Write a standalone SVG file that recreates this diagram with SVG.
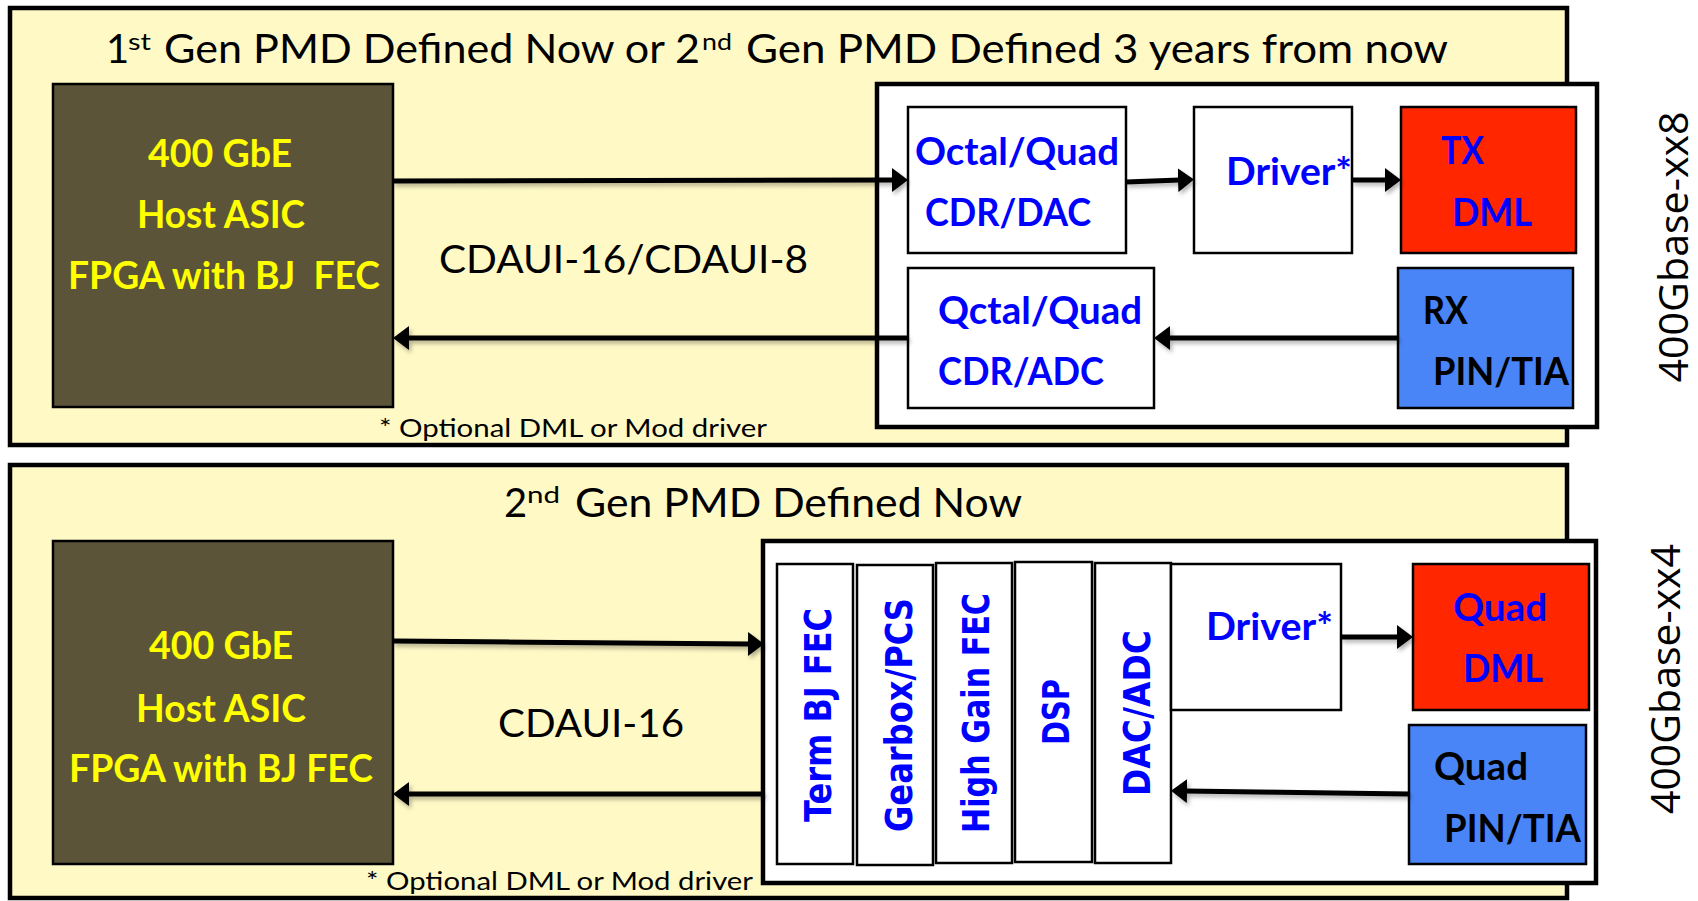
<svg xmlns="http://www.w3.org/2000/svg" width="1698" height="901" viewBox="0 0 1698 901">
<style>
.panel{fill:#FFF9C6;stroke:#000;stroke-width:4.5}
.inner{fill:#fff;stroke:#000;stroke-width:4.5}
.box{fill:#fff;stroke:#000;stroke-width:2.5}
.asic{fill:#5C5439;stroke:#000;stroke-width:2.5}
.red{fill:#FF2600;stroke:#000;stroke-width:2.5}
.blue{fill:#4A85F8;stroke:#000;stroke-width:2.5}
.t{font-family:Lato,"Open Sans","Liberation Sans",sans-serif}
.title{font-size:40px;fill:#000}
.sup{font-size:24px;fill:#000}
.ylw{font-size:38px;font-weight:bold;fill:#FFFF00}
.bl{font-size:38px;font-weight:bold;fill:#0000FF}
.bk{font-size:38px;font-weight:bold;fill:#000}
.lbl{font-size:39px;fill:#000}
.note{font-size:25px;fill:#000}
.vt{font-family:"DejaVu Sans",Verdana,sans-serif;font-weight:bold;font-size:37px;fill:#0000FF}
.side{font-family:"Open Sans","Liberation Sans",sans-serif;font-size:41px;fill:#000}
.conn line{stroke:#000;stroke-width:5;marker-end:url(#ah)}
</style>
<defs>
<marker id="ah" viewBox="0 0 16 24" markerWidth="16" markerHeight="24" refX="2" refY="12" orient="auto" markerUnits="userSpaceOnUse">
<path d="M0,0 L16,12 L0,24 z" fill="#000"/>
</marker>
<filter id="sh" x="-5%" y="-50%" width="110%" height="200%">
<feDropShadow dx="2" dy="3" stdDeviation="2" flood-color="#000" flood-opacity="0.3"/>
</filter>
</defs>

<!-- Top panel -->
<g id="panel-top">
<rect class="panel" x="10" y="8" width="1557" height="437"/>
<text class="t title" x="106" y="63">1</text>
<text class="t sup" x="128" y="50" textLength="23" lengthAdjust="spacingAndGlyphs">st</text>
<text class="t title" x="164" y="63" textLength="536" lengthAdjust="spacingAndGlyphs">Gen PMD Defined Now or 2</text>
<text class="t sup" x="702" y="50" textLength="30" lengthAdjust="spacingAndGlyphs">nd</text>
<text class="t title" x="746" y="63" textLength="702" lengthAdjust="spacingAndGlyphs">Gen PMD Defined 3 years from now</text>
<text class="t lbl" x="439" y="273" textLength="369" lengthAdjust="spacingAndGlyphs">CDAUI-16/CDAUI-8</text>
<text class="t note" x="379" y="437" textLength="388" lengthAdjust="spacingAndGlyphs">* Optional DML or Mod driver</text>
</g>
<g id="asic-top">
<rect class="asic" x="53" y="84" width="340" height="323"/>
<text class="t ylw" x="148" y="167" textLength="144" lengthAdjust="spacingAndGlyphs">400 GbE</text>
<text class="t ylw" x="137" y="228" textLength="168" lengthAdjust="spacingAndGlyphs">Host ASIC</text>
<text class="t ylw" x="68" y="289" textLength="312" lengthAdjust="spacingAndGlyphs" xml:space="preserve">FPGA with BJ  FEC</text>
</g>
<g id="module-top">
<rect class="inner" x="877" y="84" width="720" height="343"/>
</g>
<g id="cdr-dac">
<rect class="box" x="908" y="107" width="218" height="146"/>
<text class="t bl" x="915" y="165" textLength="204" lengthAdjust="spacingAndGlyphs">Octal/Quad</text>
<text class="t bl" x="925" y="226" textLength="166" lengthAdjust="spacingAndGlyphs">CDR/DAC</text>
</g>
<g id="driver-top">
<rect class="box" x="1194" y="107" width="158" height="146"/>
<text class="t bl" x="1226" y="185" textLength="126" lengthAdjust="spacingAndGlyphs">Driver*</text>
</g>
<g id="tx-dml">
<rect class="red" x="1401" y="107" width="175" height="146"/>
<text class="t bl" x="1441" y="164" textLength="43" lengthAdjust="spacingAndGlyphs">TX</text>
<text class="t bl" x="1452" y="226" textLength="80" lengthAdjust="spacingAndGlyphs">DML</text>
</g>
<g id="cdr-adc">
<rect class="box" x="908" y="268" width="246" height="140"/>
<text class="t bl" x="938" y="324" textLength="204" lengthAdjust="spacingAndGlyphs">Qctal/Quad</text>
<text class="t bl" x="938" y="385" textLength="166" lengthAdjust="spacingAndGlyphs">CDR/ADC</text>
</g>
<g id="rx-pin">
<rect class="blue" x="1398" y="268" width="175" height="140"/>
<text class="t bk" x="1423" y="324" textLength="45" lengthAdjust="spacingAndGlyphs">RX</text>
<text class="t bk" x="1433" y="385" textLength="136" lengthAdjust="spacingAndGlyphs">PIN/TIA</text>
</g>
<text class="side" transform="translate(1688,247) rotate(-90)" text-anchor="middle" textLength="271" lengthAdjust="spacingAndGlyphs">400Gbase-xx8</text>

<!-- Bottom panel -->
<g id="panel-bottom">
<rect class="panel" x="10" y="465" width="1557" height="433"/>
<text class="t title" x="504" y="517">2</text>
<text class="t sup" x="527" y="503" textLength="33" lengthAdjust="spacingAndGlyphs">nd</text>
<text class="t title" x="575" y="517" textLength="447" lengthAdjust="spacingAndGlyphs">Gen PMD Defined Now</text>
<text class="t lbl" x="498" y="737" textLength="186" lengthAdjust="spacingAndGlyphs">CDAUI-16</text>
<text class="t note" x="366" y="890" textLength="387" lengthAdjust="spacingAndGlyphs">* Optional DML or Mod driver</text>
</g>
<g id="asic-bottom">
<rect class="asic" x="53" y="541" width="340" height="323"/>
<text class="t ylw" x="149" y="659" textLength="144" lengthAdjust="spacingAndGlyphs">400 GbE</text>
<text class="t ylw" x="136" y="722" textLength="170" lengthAdjust="spacingAndGlyphs">Host ASIC</text>
<text class="t ylw" x="69" y="782" textLength="304" lengthAdjust="spacingAndGlyphs">FPGA with BJ FEC</text>
</g>
<g id="module-bottom">
<rect class="inner" x="763" y="541" width="833" height="342"/>
</g>
<g id="term-bj-fec">
<rect class="box" x="777" y="564" width="76" height="300"/>
<text class="vt" transform="translate(831,715) rotate(-90)" text-anchor="middle" textLength="214" lengthAdjust="spacingAndGlyphs">Term BJ FEC</text>
</g>
<g id="gearbox-pcs">
<rect class="box" x="857" y="565" width="76" height="300"/>
<text class="vt" transform="translate(912,715) rotate(-90)" text-anchor="middle" textLength="234" lengthAdjust="spacingAndGlyphs">Gearbox/PCS</text>
</g>
<g id="high-gain-fec">
<rect class="box" x="936" y="563" width="76" height="300"/>
<text class="vt" transform="translate(989,713) rotate(-90)" text-anchor="middle" textLength="240" lengthAdjust="spacingAndGlyphs">High Gain FEC</text>
</g>
<g id="dsp">
<rect class="box" x="1015" y="562" width="77" height="300"/>
<text class="vt" transform="translate(1069,712) rotate(-90)" text-anchor="middle" textLength="66" lengthAdjust="spacingAndGlyphs">DSP</text>
</g>
<g id="dac-adc">
<rect class="box" x="1095" y="563" width="76" height="300"/>
<text class="vt" transform="translate(1150,713) rotate(-90)" text-anchor="middle" textLength="166" lengthAdjust="spacingAndGlyphs">DAC/ADC</text>
</g>
<g id="driver-bottom">
<rect class="box" x="1171" y="564" width="170" height="146"/>
<text class="t bl" x="1206" y="640" textLength="127" lengthAdjust="spacingAndGlyphs">Driver*</text>
</g>
<g id="quad-dml">
<rect class="red" x="1413" y="564" width="176" height="146"/>
<text class="t bl" x="1453" y="621" textLength="94" lengthAdjust="spacingAndGlyphs">Quad</text>
<text class="t bl" x="1463" y="682" textLength="80" lengthAdjust="spacingAndGlyphs">DML</text>
</g>
<g id="quad-pin">
<rect class="blue" x="1409" y="725" width="177" height="139"/>
<text class="t bk" x="1434" y="780" textLength="94" lengthAdjust="spacingAndGlyphs">Quad</text>
<text class="t bk" x="1444" y="842" textLength="137" lengthAdjust="spacingAndGlyphs">PIN/TIA</text>
</g>
<text class="side" transform="translate(1680,679) rotate(-90)" text-anchor="middle" textLength="270" lengthAdjust="spacingAndGlyphs">400Gbase-xx4</text>

<!-- Connectors -->
<g id="connectors" class="conn" filter="url(#sh)">
<line x1="393" y1="181" x2="894" y2="180"/>
<line x1="908" y1="338" x2="407" y2="338"/>
<line x1="1126" y1="182" x2="1180" y2="180"/>
<line x1="1352" y1="180" x2="1387" y2="180"/>
<line x1="1398" y1="338" x2="1168" y2="338"/>
<line x1="393" y1="641" x2="750" y2="644"/>
<line x1="764" y1="794" x2="407" y2="794"/>
<line x1="1341" y1="637" x2="1399" y2="637"/>
<line x1="1409" y1="794" x2="1185" y2="791"/>
</g>
</svg>
